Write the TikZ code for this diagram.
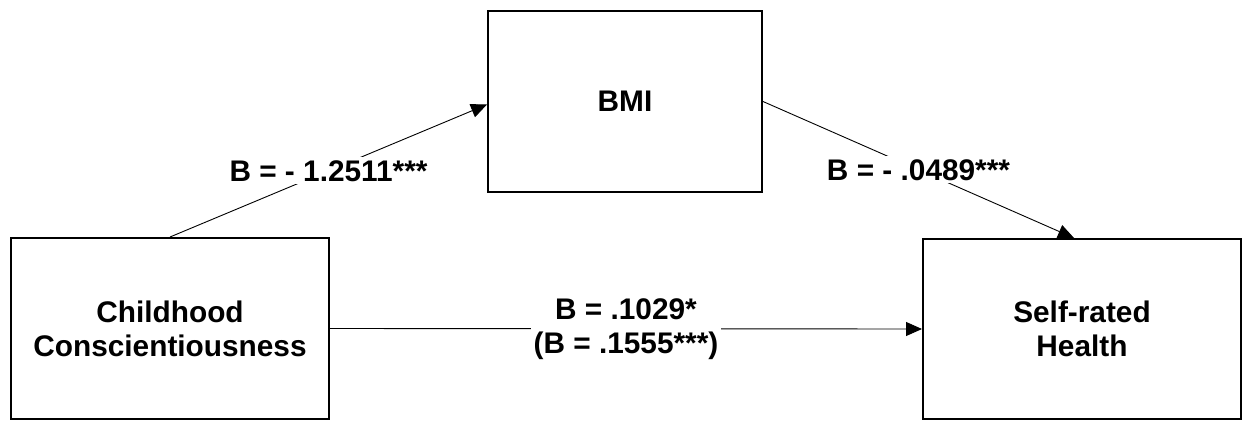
\documentclass[tikz,border=0pt]{standalone}
\usepackage{fontspec}
\setmainfont{Liberation Sans}
\usetikzlibrary{arrows.meta}
\begin{document}
\begin{tikzpicture}[x=1pt,y=-1pt,
  txt/.style={font=\fontsize{29.8}{34}\selectfont\bfseries, align=center},
  box/.style={txt, draw, line width=2pt, inner sep=0pt},
  lab/.style={txt, fill=white, inner sep=3pt},
  conn/.style={line width=0.9pt, -{Triangle[length=16pt,width=14pt]}}]
\useasboundingbox (0,0) rectangle (1246,420);
\node[box, minimum width=318pt, minimum height=181pt] (cc) at (170,328.5) {Childhood\\Conscientiousness};
\node[box, minimum width=274pt, minimum height=181pt] (bmi) at (625,101.5) {BMI};
\node[box, minimum width=318pt, minimum height=180pt] (srh) at (1082,329) {Self-rated\\Health};
\draw[conn] (cc.north) -- node[lab] {B = - 1.2511***} ([yshift=-3pt]bmi.west);
\draw[conn] (bmi.east) -- node[lab] {B = - .0489***} ([xshift=-8pt]srh.north);
\draw[conn] (cc.east) -- node[lab] {B = .1029*\\(B = .1555***)} (srh.west);
\end{tikzpicture}
\end{document}
